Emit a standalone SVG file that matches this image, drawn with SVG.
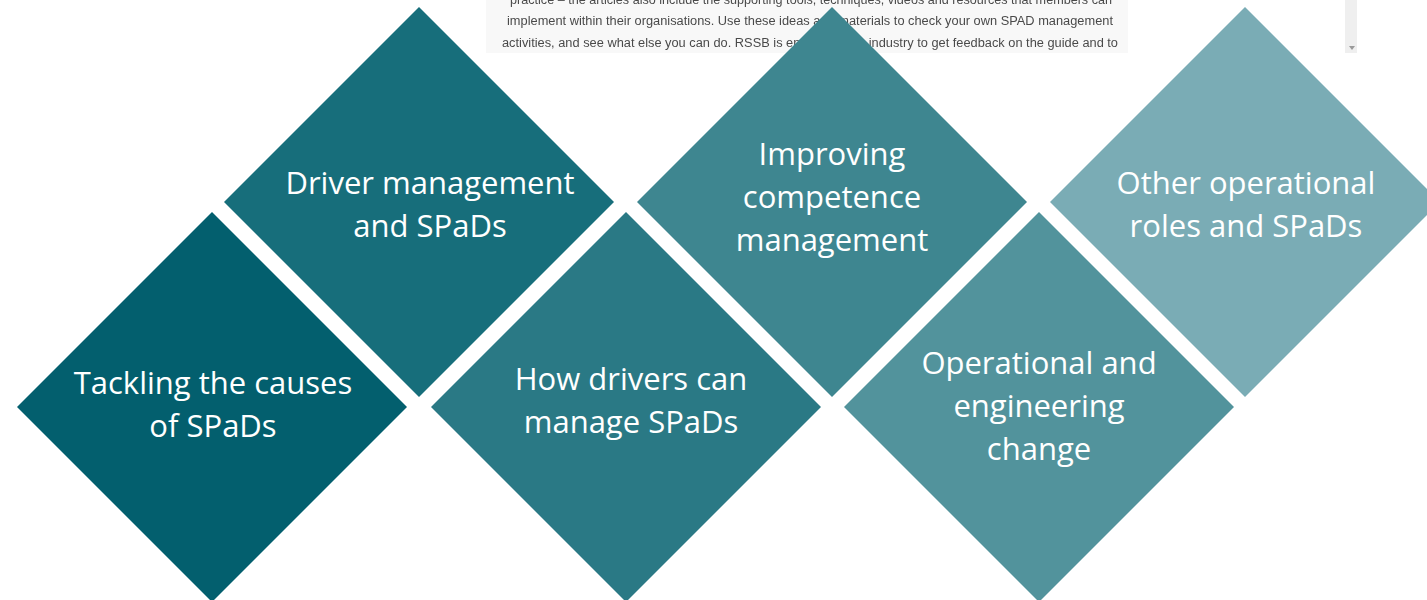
<svg xmlns="http://www.w3.org/2000/svg" width="1427" height="600" viewBox="0 0 1427 600">
  <defs>
    <filter id="soft" x="-2%" y="-20%" width="104%" height="140%">
      <feGaussianBlur stdDeviation="0.7"/>
    </filter>
    <style>
      .label { font-family: "Open Sans", "Liberation Sans", sans-serif; font-size: 31px; fill: #ffffff; text-anchor: middle; }
      .doc { font-family: "Liberation Sans", "DejaVu Sans", sans-serif; font-size: 12.5px; fill: #4a4a4a; }
    </style>
  </defs>
  <rect width="1427" height="600" fill="#ffffff"/>

  <!-- excerpt of the guide text behind the diamonds -->
  <g id="excerpt" filter="url(#soft)">
    <rect x="486" y="0" width="642" height="53" fill="#f8f8f8"/>
    <text class="doc" x="510" y="4" textLength="602" lengthAdjust="spacingAndGlyphs">practice – the articles also include the supporting tools, techniques, videos and resources that members can</text>
    <text class="doc" x="507" y="25" textLength="606" lengthAdjust="spacingAndGlyphs">implement within their organisations.  Use these ideas and materials to check your own SPAD management</text>
    <text class="doc" x="502" y="47" textLength="616" lengthAdjust="spacingAndGlyphs">activities, and see what else you can do.   RSSB is engaging with industry to get feedback on the guide and to</text>
    <rect x="1345" y="0" width="12" height="53" fill="#efefef"/>
    <path d="M1349,46 L1355,46 L1352,50 Z" fill="#9a9a9a"/>
  </g>

  <g id="node-causes">
    <polygon points="212,212 407,407 212,602 17,407" fill="#035f6e"/>
    <text class="label" x="213" y="394">Tackling the causes</text>
    <text class="label" x="213" y="437">of SPaDs</text>
  </g>

  <g id="node-driver-management">
    <polygon points="419,7 614,202 419,397 224,202" fill="#176e7b"/>
    <text class="label" x="430" y="194">Driver management</text>
    <text class="label" x="430" y="237">and SPaDs</text>
  </g>

  <g id="node-drivers-manage">
    <polygon points="626,212 821,407 626,602 431,407" fill="#2a7985"/>
    <text class="label" x="631" y="390">How drivers can</text>
    <text class="label" x="631" y="433">manage SPaDs</text>
  </g>

  <g id="node-competence">
    <polygon points="832,7 1027,202 832,397 637,202" fill="#3e8690"/>
    <text class="label" x="832" y="165">Improving</text>
    <text class="label" x="832" y="208">competence</text>
    <text class="label" x="832" y="251">management</text>
  </g>

  <g id="node-change">
    <polygon points="1039,212 1234,407 1039,602 844,407" fill="#52939c"/>
    <text class="label" x="1039" y="374">Operational and</text>
    <text class="label" x="1039" y="417">engineering</text>
    <text class="label" x="1039" y="460">change</text>
  </g>

  <g id="node-other-roles">
    <polygon points="1245,7 1440,202 1245,397 1050,202" fill="#7aacb5"/>
    <text class="label" x="1246" y="194">Other operational</text>
    <text class="label" x="1246" y="237">roles and SPaDs</text>
  </g>

  <g id="connectors"/>
</svg>
